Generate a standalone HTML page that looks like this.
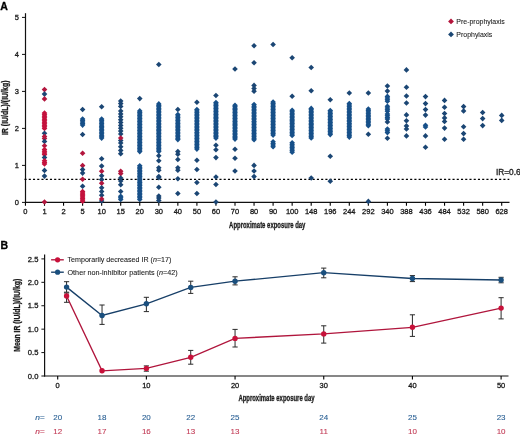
<!DOCTYPE html>
<html><head><meta charset="utf-8"><style>
html,body{margin:0;padding:0;background:#fff;}
body{width:520px;height:436px;overflow:hidden;font-family:"Liberation Sans",sans-serif;}
svg{display:block;filter:blur(0.35px);}
</style></head><body>
<svg width="520" height="436" viewBox="0 0 520 436">
<rect width="520" height="436" fill="#fff"/>
<line x1="25.5" y1="13.2" x2="25.5" y2="203.0" stroke="#111" stroke-width="1.2"/>
<line x1="24.9" y1="202.4" x2="509.5" y2="202.4" stroke="#111" stroke-width="1.2"/>
<line x1="22.0" y1="202.40" x2="25.5" y2="202.40" stroke="#111" stroke-width="1"/>
<text x="18.8" y="205.10" font-size="7.5" text-anchor="end" fill="#1a1a1a" stroke="#1a1a1a" stroke-width="0.3" font-family="Liberation Sans, sans-serif">0</text>
<line x1="22.0" y1="165.40" x2="25.5" y2="165.40" stroke="#111" stroke-width="1"/>
<text x="18.8" y="168.10" font-size="7.5" text-anchor="end" fill="#1a1a1a" stroke="#1a1a1a" stroke-width="0.3" font-family="Liberation Sans, sans-serif">1</text>
<line x1="22.0" y1="128.40" x2="25.5" y2="128.40" stroke="#111" stroke-width="1"/>
<text x="18.8" y="131.10" font-size="7.5" text-anchor="end" fill="#1a1a1a" stroke="#1a1a1a" stroke-width="0.3" font-family="Liberation Sans, sans-serif">2</text>
<line x1="22.0" y1="91.40" x2="25.5" y2="91.40" stroke="#111" stroke-width="1"/>
<text x="18.8" y="94.10" font-size="7.5" text-anchor="end" fill="#1a1a1a" stroke="#1a1a1a" stroke-width="0.3" font-family="Liberation Sans, sans-serif">3</text>
<line x1="22.0" y1="54.40" x2="25.5" y2="54.40" stroke="#111" stroke-width="1"/>
<text x="18.8" y="57.10" font-size="7.5" text-anchor="end" fill="#1a1a1a" stroke="#1a1a1a" stroke-width="0.3" font-family="Liberation Sans, sans-serif">4</text>
<line x1="22.0" y1="17.40" x2="25.5" y2="17.40" stroke="#111" stroke-width="1"/>
<text x="18.8" y="20.10" font-size="7.5" text-anchor="end" fill="#1a1a1a" stroke="#1a1a1a" stroke-width="0.3" font-family="Liberation Sans, sans-serif">5</text>
<line x1="25.45" y1="202.4" x2="25.45" y2="205.8" stroke="#000" stroke-width="1.1"/>
<text x="25.45" y="214.4" font-size="7.5" text-anchor="middle" fill="#1a1a1a" stroke="#1a1a1a" stroke-width="0.3" font-family="Liberation Sans, sans-serif">0</text>
<line x1="44.50" y1="202.4" x2="44.50" y2="205.8" stroke="#000" stroke-width="1.1"/>
<text x="44.50" y="214.4" font-size="7.5" text-anchor="middle" fill="#1a1a1a" stroke="#1a1a1a" stroke-width="0.3" font-family="Liberation Sans, sans-serif">1</text>
<line x1="63.55" y1="202.4" x2="63.55" y2="205.8" stroke="#000" stroke-width="1.1"/>
<text x="63.55" y="214.4" font-size="7.5" text-anchor="middle" fill="#1a1a1a" stroke="#1a1a1a" stroke-width="0.3" font-family="Liberation Sans, sans-serif">2</text>
<line x1="82.60" y1="202.4" x2="82.60" y2="205.8" stroke="#000" stroke-width="1.1"/>
<text x="82.60" y="214.4" font-size="7.5" text-anchor="middle" fill="#1a1a1a" stroke="#1a1a1a" stroke-width="0.3" font-family="Liberation Sans, sans-serif">5</text>
<line x1="101.65" y1="202.4" x2="101.65" y2="205.8" stroke="#000" stroke-width="1.1"/>
<text x="101.65" y="214.4" font-size="7.5" text-anchor="middle" fill="#1a1a1a" stroke="#1a1a1a" stroke-width="0.3" font-family="Liberation Sans, sans-serif">10</text>
<line x1="120.70" y1="202.4" x2="120.70" y2="205.8" stroke="#000" stroke-width="1.1"/>
<text x="120.70" y="214.4" font-size="7.5" text-anchor="middle" fill="#1a1a1a" stroke="#1a1a1a" stroke-width="0.3" font-family="Liberation Sans, sans-serif">15</text>
<line x1="139.75" y1="202.4" x2="139.75" y2="205.8" stroke="#000" stroke-width="1.1"/>
<text x="139.75" y="214.4" font-size="7.5" text-anchor="middle" fill="#1a1a1a" stroke="#1a1a1a" stroke-width="0.3" font-family="Liberation Sans, sans-serif">20</text>
<line x1="158.80" y1="202.4" x2="158.80" y2="205.8" stroke="#000" stroke-width="1.1"/>
<text x="158.80" y="214.4" font-size="7.5" text-anchor="middle" fill="#1a1a1a" stroke="#1a1a1a" stroke-width="0.3" font-family="Liberation Sans, sans-serif">30</text>
<line x1="177.85" y1="202.4" x2="177.85" y2="205.8" stroke="#000" stroke-width="1.1"/>
<text x="177.85" y="214.4" font-size="7.5" text-anchor="middle" fill="#1a1a1a" stroke="#1a1a1a" stroke-width="0.3" font-family="Liberation Sans, sans-serif">40</text>
<line x1="196.90" y1="202.4" x2="196.90" y2="205.8" stroke="#000" stroke-width="1.1"/>
<text x="196.90" y="214.4" font-size="7.5" text-anchor="middle" fill="#1a1a1a" stroke="#1a1a1a" stroke-width="0.3" font-family="Liberation Sans, sans-serif">50</text>
<line x1="215.95" y1="202.4" x2="215.95" y2="205.8" stroke="#000" stroke-width="1.1"/>
<text x="215.95" y="214.4" font-size="7.5" text-anchor="middle" fill="#1a1a1a" stroke="#1a1a1a" stroke-width="0.3" font-family="Liberation Sans, sans-serif">60</text>
<line x1="235.00" y1="202.4" x2="235.00" y2="205.8" stroke="#000" stroke-width="1.1"/>
<text x="235.00" y="214.4" font-size="7.5" text-anchor="middle" fill="#1a1a1a" stroke="#1a1a1a" stroke-width="0.3" font-family="Liberation Sans, sans-serif">70</text>
<line x1="254.05" y1="202.4" x2="254.05" y2="205.8" stroke="#000" stroke-width="1.1"/>
<text x="254.05" y="214.4" font-size="7.5" text-anchor="middle" fill="#1a1a1a" stroke="#1a1a1a" stroke-width="0.3" font-family="Liberation Sans, sans-serif">80</text>
<line x1="273.10" y1="202.4" x2="273.10" y2="205.8" stroke="#000" stroke-width="1.1"/>
<text x="273.10" y="214.4" font-size="7.5" text-anchor="middle" fill="#1a1a1a" stroke="#1a1a1a" stroke-width="0.3" font-family="Liberation Sans, sans-serif">90</text>
<line x1="292.15" y1="202.4" x2="292.15" y2="205.8" stroke="#000" stroke-width="1.1"/>
<text x="292.15" y="214.4" font-size="7.5" text-anchor="middle" fill="#1a1a1a" stroke="#1a1a1a" stroke-width="0.3" font-family="Liberation Sans, sans-serif">100</text>
<line x1="311.20" y1="202.4" x2="311.20" y2="205.8" stroke="#000" stroke-width="1.1"/>
<text x="311.20" y="214.4" font-size="7.5" text-anchor="middle" fill="#1a1a1a" stroke="#1a1a1a" stroke-width="0.3" font-family="Liberation Sans, sans-serif">148</text>
<line x1="330.25" y1="202.4" x2="330.25" y2="205.8" stroke="#000" stroke-width="1.1"/>
<text x="330.25" y="214.4" font-size="7.5" text-anchor="middle" fill="#1a1a1a" stroke="#1a1a1a" stroke-width="0.3" font-family="Liberation Sans, sans-serif">196</text>
<line x1="349.30" y1="202.4" x2="349.30" y2="205.8" stroke="#000" stroke-width="1.1"/>
<text x="349.30" y="214.4" font-size="7.5" text-anchor="middle" fill="#1a1a1a" stroke="#1a1a1a" stroke-width="0.3" font-family="Liberation Sans, sans-serif">244</text>
<line x1="368.35" y1="202.4" x2="368.35" y2="205.8" stroke="#000" stroke-width="1.1"/>
<text x="368.35" y="214.4" font-size="7.5" text-anchor="middle" fill="#1a1a1a" stroke="#1a1a1a" stroke-width="0.3" font-family="Liberation Sans, sans-serif">292</text>
<line x1="387.40" y1="202.4" x2="387.40" y2="205.8" stroke="#000" stroke-width="1.1"/>
<text x="387.40" y="214.4" font-size="7.5" text-anchor="middle" fill="#1a1a1a" stroke="#1a1a1a" stroke-width="0.3" font-family="Liberation Sans, sans-serif">340</text>
<line x1="406.45" y1="202.4" x2="406.45" y2="205.8" stroke="#000" stroke-width="1.1"/>
<text x="406.45" y="214.4" font-size="7.5" text-anchor="middle" fill="#1a1a1a" stroke="#1a1a1a" stroke-width="0.3" font-family="Liberation Sans, sans-serif">388</text>
<line x1="425.50" y1="202.4" x2="425.50" y2="205.8" stroke="#000" stroke-width="1.1"/>
<text x="425.50" y="214.4" font-size="7.5" text-anchor="middle" fill="#1a1a1a" stroke="#1a1a1a" stroke-width="0.3" font-family="Liberation Sans, sans-serif">436</text>
<line x1="444.55" y1="202.4" x2="444.55" y2="205.8" stroke="#000" stroke-width="1.1"/>
<text x="444.55" y="214.4" font-size="7.5" text-anchor="middle" fill="#1a1a1a" stroke="#1a1a1a" stroke-width="0.3" font-family="Liberation Sans, sans-serif">484</text>
<line x1="463.60" y1="202.4" x2="463.60" y2="205.8" stroke="#000" stroke-width="1.1"/>
<text x="463.60" y="214.4" font-size="7.5" text-anchor="middle" fill="#1a1a1a" stroke="#1a1a1a" stroke-width="0.3" font-family="Liberation Sans, sans-serif">532</text>
<line x1="482.65" y1="202.4" x2="482.65" y2="205.8" stroke="#000" stroke-width="1.1"/>
<text x="482.65" y="214.4" font-size="7.5" text-anchor="middle" fill="#1a1a1a" stroke="#1a1a1a" stroke-width="0.3" font-family="Liberation Sans, sans-serif">580</text>
<line x1="501.70" y1="202.4" x2="501.70" y2="205.8" stroke="#000" stroke-width="1.1"/>
<text x="501.70" y="214.4" font-size="7.5" text-anchor="middle" fill="#1a1a1a" stroke="#1a1a1a" stroke-width="0.3" font-family="Liberation Sans, sans-serif">628</text>
<line x1="24.5" y1="179.3" x2="509.3" y2="179.3" stroke="#000" stroke-width="1.3" stroke-dasharray="2.1 2.1376"/>
<text x="495.9" y="175.3" font-size="8.3" fill="#1a1a1a" stroke="#1a1a1a" stroke-width="0.3" font-family="Liberation Sans, sans-serif">IR=0.6</text>
<path d="M44.50 86.80L47.30 89.60L44.50 92.40L41.70 89.60Z" fill="#b3163e"/>
<path d="M44.50 91.30L47.30 94.10L44.50 96.90L41.70 94.10Z" fill="#1b4674"/>
<path d="M44.50 96.10L47.30 98.90L44.50 101.70L41.70 98.90Z" fill="#b3163e"/>
<path d="M44.50 110.30L47.30 113.10L44.50 115.90L41.70 113.10Z" fill="#c4123d"/>
<path d="M44.50 111.83L47.30 114.63L44.50 117.43L41.70 114.63Z" fill="#c4123d"/>
<path d="M44.50 113.36L47.30 116.16L44.50 118.96L41.70 116.16Z" fill="#c4123d"/>
<path d="M44.50 114.89L47.30 117.69L44.50 120.49L41.70 117.69Z" fill="#c4123d"/>
<path d="M44.50 116.42L47.30 119.22L44.50 122.02L41.70 119.22Z" fill="#c4123d"/>
<path d="M44.50 117.95L47.30 120.75L44.50 123.55L41.70 120.75Z" fill="#c4123d"/>
<path d="M44.50 119.48L47.30 122.28L44.50 125.08L41.70 122.28Z" fill="#c4123d"/>
<path d="M44.50 121.01L47.30 123.81L44.50 126.61L41.70 123.81Z" fill="#c4123d"/>
<path d="M44.50 122.54L47.30 125.34L44.50 128.14L41.70 125.34Z" fill="#c4123d"/>
<path d="M44.50 124.07L47.30 126.87L44.50 129.67L41.70 126.87Z" fill="#c4123d"/>
<path d="M44.50 125.60L47.30 128.40L44.50 131.20L41.70 128.40Z" fill="#c4123d"/>
<path d="M44.50 130.50L47.30 133.30L44.50 136.10L41.70 133.30Z" fill="#1b4674"/>
<path d="M44.50 133.70L47.30 136.50L44.50 139.30L41.70 136.50Z" fill="#b3163e"/>
<path d="M44.50 135.70L47.30 138.50L44.50 141.30L41.70 138.50Z" fill="#b3163e"/>
<path d="M44.50 138.60L47.30 141.40L44.50 144.20L41.70 141.40Z" fill="#1b4674"/>
<path d="M44.50 143.00L47.30 145.80L44.50 148.60L41.70 145.80Z" fill="#b3163e"/>
<path d="M44.50 146.70L47.30 149.50L44.50 152.30L41.70 149.50Z" fill="#c4123d"/>
<path d="M44.50 148.40L47.30 151.20L44.50 154.00L41.70 151.20Z" fill="#c4123d"/>
<path d="M44.50 150.10L47.30 152.90L44.50 155.70L41.70 152.90Z" fill="#c4123d"/>
<path d="M44.50 151.80L47.30 154.60L44.50 157.40L41.70 154.60Z" fill="#c4123d"/>
<path d="M44.50 154.70L47.30 157.50L44.50 160.30L41.70 157.50Z" fill="#1b4674"/>
<path d="M44.50 158.00L47.30 160.80L44.50 163.60L41.70 160.80Z" fill="#c4123d"/>
<path d="M44.50 159.60L47.30 162.40L44.50 165.20L41.70 162.40Z" fill="#c4123d"/>
<path d="M44.50 161.20L47.30 164.00L44.50 166.80L41.70 164.00Z" fill="#c4123d"/>
<path d="M44.50 167.60L47.30 170.40L44.50 173.20L41.70 170.40Z" fill="#1b4674"/>
<path d="M44.50 173.30L47.30 176.10L44.50 178.90L41.70 176.10Z" fill="#1b4674"/>
<path d="M44.50 199.20L47.30 202.00L44.50 204.80L41.70 202.00Z" fill="#b3163e"/>
<path d="M82.60 106.70L85.40 109.50L82.60 112.30L79.80 109.50Z" fill="#1b4674"/>
<path d="M82.60 116.20L85.40 119.00L82.60 121.80L79.80 119.00Z" fill="#175089"/>
<path d="M82.60 117.73L85.40 120.53L82.60 123.33L79.80 120.53Z" fill="#175089"/>
<path d="M82.60 119.25L85.40 122.05L82.60 124.85L79.80 122.05Z" fill="#175089"/>
<path d="M82.60 120.78L85.40 123.58L82.60 126.38L79.80 123.58Z" fill="#175089"/>
<path d="M82.60 122.30L85.40 125.10L82.60 127.90L79.80 125.10Z" fill="#175089"/>
<path d="M82.60 131.70L85.40 134.50L82.60 137.30L79.80 134.50Z" fill="#1b4674"/>
<path d="M82.60 150.40L85.40 153.20L82.60 156.00L79.80 153.20Z" fill="#b3163e"/>
<path d="M82.60 162.80L85.40 165.60L82.60 168.40L79.80 165.60Z" fill="#b3163e"/>
<path d="M82.60 166.80L85.40 169.60L82.60 172.40L79.80 169.60Z" fill="#1b4674"/>
<path d="M82.60 170.30L85.40 173.10L82.60 175.90L79.80 173.10Z" fill="#1b4674"/>
<path d="M82.60 176.40L85.40 179.20L82.60 182.00L79.80 179.20Z" fill="#b3163e"/>
<path d="M82.60 183.50L85.40 186.30L82.60 189.10L79.80 186.30Z" fill="#1b4674"/>
<path d="M82.60 188.70L85.40 191.50L82.60 194.30L79.80 191.50Z" fill="#c4123d"/>
<path d="M82.60 190.10L85.40 192.90L82.60 195.70L79.80 192.90Z" fill="#c4123d"/>
<path d="M82.60 191.50L85.40 194.30L82.60 197.10L79.80 194.30Z" fill="#c4123d"/>
<path d="M82.60 192.90L85.40 195.70L82.60 198.50L79.80 195.70Z" fill="#c4123d"/>
<path d="M82.60 194.30L85.40 197.10L82.60 199.90L79.80 197.10Z" fill="#c4123d"/>
<path d="M82.60 195.70L85.40 198.50L82.60 201.30L79.80 198.50Z" fill="#c4123d"/>
<path d="M82.60 197.10L85.40 199.90L82.60 202.70L79.80 199.90Z" fill="#c4123d"/>
<path d="M82.60 198.50L85.40 201.30L82.60 204.10L79.80 201.30Z" fill="#c4123d"/>
<path d="M101.65 104.00L104.45 106.80L101.65 109.60L98.85 106.80Z" fill="#1b4674"/>
<path d="M101.65 116.30L104.45 119.10L101.65 121.90L98.85 119.10Z" fill="#175089"/>
<path d="M101.65 117.76L104.45 120.56L101.65 123.36L98.85 120.56Z" fill="#175089"/>
<path d="M101.65 119.22L104.45 122.02L101.65 124.82L98.85 122.02Z" fill="#175089"/>
<path d="M101.65 120.68L104.45 123.48L101.65 126.28L98.85 123.48Z" fill="#175089"/>
<path d="M101.65 122.15L104.45 124.95L101.65 127.75L98.85 124.95Z" fill="#175089"/>
<path d="M101.65 123.61L104.45 126.41L101.65 129.21L98.85 126.41Z" fill="#175089"/>
<path d="M101.65 125.07L104.45 127.87L101.65 130.67L98.85 127.87Z" fill="#175089"/>
<path d="M101.65 126.53L104.45 129.33L101.65 132.13L98.85 129.33Z" fill="#175089"/>
<path d="M101.65 127.99L104.45 130.79L101.65 133.59L98.85 130.79Z" fill="#175089"/>
<path d="M101.65 129.45L104.45 132.25L101.65 135.05L98.85 132.25Z" fill="#175089"/>
<path d="M101.65 130.92L104.45 133.72L101.65 136.52L98.85 133.72Z" fill="#175089"/>
<path d="M101.65 132.38L104.45 135.18L101.65 137.98L98.85 135.18Z" fill="#175089"/>
<path d="M101.65 133.84L104.45 136.64L101.65 139.44L98.85 136.64Z" fill="#175089"/>
<path d="M101.65 135.30L104.45 138.10L101.65 140.90L98.85 138.10Z" fill="#175089"/>
<path d="M101.65 155.90L104.45 158.70L101.65 161.50L98.85 158.70Z" fill="#1b4674"/>
<path d="M101.65 163.30L104.45 166.10L101.65 168.90L98.85 166.10Z" fill="#1b4674"/>
<path d="M101.65 168.50L104.45 171.30L101.65 174.10L98.85 171.30Z" fill="#b3163e"/>
<path d="M101.65 173.00L104.45 175.80L101.65 178.60L98.85 175.80Z" fill="#1b4674"/>
<path d="M101.65 176.80L104.45 179.60L101.65 182.40L98.85 179.60Z" fill="#1b4674"/>
<path d="M101.65 180.50L104.45 183.30L101.65 186.10L98.85 183.30Z" fill="#b3163e"/>
<path d="M101.65 185.00L104.45 187.80L101.65 190.60L98.85 187.80Z" fill="#1b4674"/>
<path d="M101.65 188.70L104.45 191.50L101.65 194.30L98.85 191.50Z" fill="#1b4674"/>
<path d="M101.65 192.40L104.45 195.20L101.65 198.00L98.85 195.20Z" fill="#1b4674"/>
<path d="M101.65 198.20L104.45 201.00L101.65 203.80L98.85 201.00Z" fill="#1b4674"/>
<path d="M101.65 196.20L104.45 199.00L101.65 201.80L98.85 199.00Z" fill="#b3163e"/>
<path d="M120.70 98.20L123.50 101.00L120.70 103.80L117.90 101.00Z" fill="#1b4674"/>
<path d="M120.70 100.80L123.50 103.60L120.70 106.40L117.90 103.60Z" fill="#1b4674"/>
<path d="M120.70 103.70L123.50 106.50L120.70 109.30L117.90 106.50Z" fill="#1b4674"/>
<path d="M120.70 108.20L123.50 111.00L120.70 113.80L117.90 111.00Z" fill="#1b4674"/>
<path d="M120.70 111.10L123.50 113.90L120.70 116.70L117.90 113.90Z" fill="#1b4674"/>
<path d="M120.70 114.00L123.50 116.80L120.70 119.60L117.90 116.80Z" fill="#1b4674"/>
<path d="M120.70 116.90L123.50 119.70L120.70 122.50L117.90 119.70Z" fill="#1b4674"/>
<path d="M120.70 119.70L123.50 122.50L120.70 125.30L117.90 122.50Z" fill="#1b4674"/>
<path d="M120.70 122.60L123.50 125.40L120.70 128.20L117.90 125.40Z" fill="#1b4674"/>
<path d="M120.70 125.50L123.50 128.30L120.70 131.10L117.90 128.30Z" fill="#1b4674"/>
<path d="M120.70 128.30L123.50 131.10L120.70 133.90L117.90 131.10Z" fill="#1b4674"/>
<path d="M120.70 131.20L123.50 134.00L120.70 136.80L117.90 134.00Z" fill="#1b4674"/>
<path d="M120.70 137.70L123.50 140.50L120.70 143.30L117.90 140.50Z" fill="#1b4674"/>
<path d="M120.70 135.20L123.50 138.00L120.70 140.80L117.90 138.00Z" fill="#b3163e"/>
<path d="M120.70 140.20L123.50 143.00L120.70 145.80L117.90 143.00Z" fill="#1b4674"/>
<path d="M120.70 143.90L123.50 146.70L120.70 149.50L117.90 146.70Z" fill="#1b4674"/>
<path d="M120.70 147.60L123.50 150.40L120.70 153.20L117.90 150.40Z" fill="#1b4674"/>
<path d="M120.70 150.90L123.50 153.70L120.70 156.50L117.90 153.70Z" fill="#1b4674"/>
<path d="M120.70 168.50L123.50 171.30L120.70 174.10L117.90 171.30Z" fill="#b3163e"/>
<path d="M120.70 170.80L123.50 173.60L120.70 176.40L117.90 173.60Z" fill="#b3163e"/>
<path d="M120.70 175.20L123.50 178.00L120.70 180.80L117.90 178.00Z" fill="#1b4674"/>
<path d="M120.70 178.20L123.50 181.00L120.70 183.80L117.90 181.00Z" fill="#1b4674"/>
<path d="M120.70 182.00L123.50 184.80L120.70 187.60L117.90 184.80Z" fill="#1b4674"/>
<path d="M120.70 188.70L123.50 191.50L120.70 194.30L117.90 191.50Z" fill="#1b4674"/>
<path d="M120.70 193.50L123.50 196.30L120.70 199.10L117.90 196.30Z" fill="#175089"/>
<path d="M120.70 195.05L123.50 197.85L120.70 200.65L117.90 197.85Z" fill="#175089"/>
<path d="M120.70 196.60L123.50 199.40L120.70 202.20L117.90 199.40Z" fill="#175089"/>
<path d="M139.75 95.80L142.55 98.60L139.75 101.40L136.95 98.60Z" fill="#1b4674"/>
<path d="M139.75 108.10L142.55 110.90L139.75 113.70L136.95 110.90Z" fill="#175089"/>
<path d="M139.75 109.61L142.55 112.41L139.75 115.21L136.95 112.41Z" fill="#175089"/>
<path d="M139.75 111.11L142.55 113.91L139.75 116.71L136.95 113.91Z" fill="#175089"/>
<path d="M139.75 112.62L142.55 115.42L139.75 118.22L136.95 115.42Z" fill="#175089"/>
<path d="M139.75 114.13L142.55 116.93L139.75 119.73L136.95 116.93Z" fill="#175089"/>
<path d="M139.75 115.64L142.55 118.44L139.75 121.24L136.95 118.44Z" fill="#175089"/>
<path d="M139.75 117.14L142.55 119.94L139.75 122.74L136.95 119.94Z" fill="#175089"/>
<path d="M139.75 118.65L142.55 121.45L139.75 124.25L136.95 121.45Z" fill="#175089"/>
<path d="M139.75 120.16L142.55 122.96L139.75 125.76L136.95 122.96Z" fill="#175089"/>
<path d="M139.75 121.67L142.55 124.47L139.75 127.27L136.95 124.47Z" fill="#175089"/>
<path d="M139.75 123.17L142.55 125.97L139.75 128.77L136.95 125.97Z" fill="#175089"/>
<path d="M139.75 124.68L142.55 127.48L139.75 130.28L136.95 127.48Z" fill="#175089"/>
<path d="M139.75 126.19L142.55 128.99L139.75 131.79L136.95 128.99Z" fill="#175089"/>
<path d="M139.75 127.70L142.55 130.50L139.75 133.30L136.95 130.50Z" fill="#175089"/>
<path d="M139.75 129.20L142.55 132.00L139.75 134.80L136.95 132.00Z" fill="#175089"/>
<path d="M139.75 130.71L142.55 133.51L139.75 136.31L136.95 133.51Z" fill="#175089"/>
<path d="M139.75 132.22L142.55 135.02L139.75 137.82L136.95 135.02Z" fill="#175089"/>
<path d="M139.75 133.73L142.55 136.53L139.75 139.33L136.95 136.53Z" fill="#175089"/>
<path d="M139.75 135.23L142.55 138.03L139.75 140.83L136.95 138.03Z" fill="#175089"/>
<path d="M139.75 136.74L142.55 139.54L139.75 142.34L136.95 139.54Z" fill="#175089"/>
<path d="M139.75 138.25L142.55 141.05L139.75 143.85L136.95 141.05Z" fill="#175089"/>
<path d="M139.75 139.76L142.55 142.56L139.75 145.36L136.95 142.56Z" fill="#175089"/>
<path d="M139.75 141.26L142.55 144.06L139.75 146.86L136.95 144.06Z" fill="#175089"/>
<path d="M139.75 142.77L142.55 145.57L139.75 148.37L136.95 145.57Z" fill="#175089"/>
<path d="M139.75 144.28L142.55 147.08L139.75 149.88L136.95 147.08Z" fill="#175089"/>
<path d="M139.75 145.79L142.55 148.59L139.75 151.39L136.95 148.59Z" fill="#175089"/>
<path d="M139.75 147.29L142.55 150.09L139.75 152.89L136.95 150.09Z" fill="#175089"/>
<path d="M139.75 148.80L142.55 151.60L139.75 154.40L136.95 151.60Z" fill="#175089"/>
<path d="M139.75 162.90L142.55 165.70L139.75 168.50L136.95 165.70Z" fill="#175089"/>
<path d="M139.75 164.43L142.55 167.23L139.75 170.03L136.95 167.23Z" fill="#175089"/>
<path d="M139.75 165.96L142.55 168.76L139.75 171.56L136.95 168.76Z" fill="#175089"/>
<path d="M139.75 167.50L142.55 170.30L139.75 173.10L136.95 170.30Z" fill="#175089"/>
<path d="M139.75 169.03L142.55 171.83L139.75 174.63L136.95 171.83Z" fill="#175089"/>
<path d="M139.75 170.56L142.55 173.36L139.75 176.16L136.95 173.36Z" fill="#175089"/>
<path d="M139.75 172.09L142.55 174.89L139.75 177.69L136.95 174.89Z" fill="#175089"/>
<path d="M139.75 173.62L142.55 176.42L139.75 179.22L136.95 176.42Z" fill="#175089"/>
<path d="M139.75 175.15L142.55 177.95L139.75 180.75L136.95 177.95Z" fill="#175089"/>
<path d="M139.75 176.69L142.55 179.49L139.75 182.29L136.95 179.49Z" fill="#175089"/>
<path d="M139.75 178.22L142.55 181.02L139.75 183.82L136.95 181.02Z" fill="#175089"/>
<path d="M139.75 179.75L142.55 182.55L139.75 185.35L136.95 182.55Z" fill="#175089"/>
<path d="M139.75 181.28L142.55 184.08L139.75 186.88L136.95 184.08Z" fill="#175089"/>
<path d="M139.75 182.81L142.55 185.61L139.75 188.41L136.95 185.61Z" fill="#175089"/>
<path d="M139.75 184.35L142.55 187.15L139.75 189.95L136.95 187.15Z" fill="#175089"/>
<path d="M139.75 185.88L142.55 188.68L139.75 191.48L136.95 188.68Z" fill="#175089"/>
<path d="M139.75 187.41L142.55 190.21L139.75 193.01L136.95 190.21Z" fill="#175089"/>
<path d="M139.75 188.94L142.55 191.74L139.75 194.54L136.95 191.74Z" fill="#175089"/>
<path d="M139.75 190.47L142.55 193.27L139.75 196.07L136.95 193.27Z" fill="#175089"/>
<path d="M139.75 192.00L142.55 194.80L139.75 197.60L136.95 194.80Z" fill="#175089"/>
<path d="M139.75 193.54L142.55 196.34L139.75 199.14L136.95 196.34Z" fill="#175089"/>
<path d="M139.75 195.07L142.55 197.87L139.75 200.67L136.95 197.87Z" fill="#175089"/>
<path d="M139.75 196.60L142.55 199.40L139.75 202.20L136.95 199.40Z" fill="#175089"/>
<path d="M158.80 61.70L161.60 64.50L158.80 67.30L156.00 64.50Z" fill="#1b4674"/>
<path d="M158.80 101.10L161.60 103.90L158.80 106.70L156.00 103.90Z" fill="#175089"/>
<path d="M158.80 102.58L161.60 105.38L158.80 108.18L156.00 105.38Z" fill="#175089"/>
<path d="M158.80 104.07L161.60 106.87L158.80 109.67L156.00 106.87Z" fill="#175089"/>
<path d="M158.80 105.55L161.60 108.35L158.80 111.15L156.00 108.35Z" fill="#175089"/>
<path d="M158.80 107.04L161.60 109.84L158.80 112.64L156.00 109.84Z" fill="#175089"/>
<path d="M158.80 108.52L161.60 111.32L158.80 114.12L156.00 111.32Z" fill="#175089"/>
<path d="M158.80 110.01L161.60 112.81L158.80 115.61L156.00 112.81Z" fill="#175089"/>
<path d="M158.80 111.49L161.60 114.29L158.80 117.09L156.00 114.29Z" fill="#175089"/>
<path d="M158.80 112.97L161.60 115.77L158.80 118.57L156.00 115.77Z" fill="#175089"/>
<path d="M158.80 114.46L161.60 117.26L158.80 120.06L156.00 117.26Z" fill="#175089"/>
<path d="M158.80 115.94L161.60 118.74L158.80 121.54L156.00 118.74Z" fill="#175089"/>
<path d="M158.80 117.43L161.60 120.23L158.80 123.03L156.00 120.23Z" fill="#175089"/>
<path d="M158.80 118.91L161.60 121.71L158.80 124.51L156.00 121.71Z" fill="#175089"/>
<path d="M158.80 120.40L161.60 123.20L158.80 126.00L156.00 123.20Z" fill="#175089"/>
<path d="M158.80 121.88L161.60 124.68L158.80 127.48L156.00 124.68Z" fill="#175089"/>
<path d="M158.80 123.37L161.60 126.17L158.80 128.97L156.00 126.17Z" fill="#175089"/>
<path d="M158.80 124.85L161.60 127.65L158.80 130.45L156.00 127.65Z" fill="#175089"/>
<path d="M158.80 126.33L161.60 129.13L158.80 131.93L156.00 129.13Z" fill="#175089"/>
<path d="M158.80 127.82L161.60 130.62L158.80 133.42L156.00 130.62Z" fill="#175089"/>
<path d="M158.80 129.30L161.60 132.10L158.80 134.90L156.00 132.10Z" fill="#175089"/>
<path d="M158.80 130.79L161.60 133.59L158.80 136.39L156.00 133.59Z" fill="#175089"/>
<path d="M158.80 132.27L161.60 135.07L158.80 137.87L156.00 135.07Z" fill="#175089"/>
<path d="M158.80 133.76L161.60 136.56L158.80 139.36L156.00 136.56Z" fill="#175089"/>
<path d="M158.80 135.24L161.60 138.04L158.80 140.84L156.00 138.04Z" fill="#175089"/>
<path d="M158.80 136.72L161.60 139.53L158.80 142.33L156.00 139.53Z" fill="#175089"/>
<path d="M158.80 138.21L161.60 141.01L158.80 143.81L156.00 141.01Z" fill="#175089"/>
<path d="M158.80 139.69L161.60 142.49L158.80 145.29L156.00 142.49Z" fill="#175089"/>
<path d="M158.80 141.18L161.60 143.98L158.80 146.78L156.00 143.98Z" fill="#175089"/>
<path d="M158.80 142.66L161.60 145.46L158.80 148.26L156.00 145.46Z" fill="#175089"/>
<path d="M158.80 144.15L161.60 146.95L158.80 149.75L156.00 146.95Z" fill="#175089"/>
<path d="M158.80 145.63L161.60 148.43L158.80 151.23L156.00 148.43Z" fill="#175089"/>
<path d="M158.80 147.12L161.60 149.92L158.80 152.72L156.00 149.92Z" fill="#175089"/>
<path d="M158.80 148.60L161.60 151.40L158.80 154.20L156.00 151.40Z" fill="#175089"/>
<path d="M158.80 152.90L161.60 155.70L158.80 158.50L156.00 155.70Z" fill="#1b4674"/>
<path d="M158.80 157.90L161.60 160.70L158.80 163.50L156.00 160.70Z" fill="#1b4674"/>
<path d="M158.80 164.90L161.60 167.70L158.80 170.50L156.00 167.70Z" fill="#1b4674"/>
<path d="M158.80 167.40L161.60 170.20L158.80 173.00L156.00 170.20Z" fill="#1b4674"/>
<path d="M158.80 173.70L161.60 176.50L158.80 179.30L156.00 176.50Z" fill="#1b4674"/>
<path d="M158.80 174.90L161.60 177.70L158.80 180.50L156.00 177.70Z" fill="#1b4674"/>
<path d="M158.80 184.40L161.60 187.20L158.80 190.00L156.00 187.20Z" fill="#1b4674"/>
<path d="M158.80 193.20L161.60 196.00L158.80 198.80L156.00 196.00Z" fill="#1b4674"/>
<path d="M158.80 195.10L161.60 197.90L158.80 200.70L156.00 197.90Z" fill="#1b4674"/>
<path d="M158.80 197.60L161.60 200.40L158.80 203.20L156.00 200.40Z" fill="#1b4674"/>
<path d="M177.85 106.70L180.65 109.50L177.85 112.30L175.05 109.50Z" fill="#1b4674"/>
<path d="M177.85 111.80L180.65 114.60L177.85 117.40L175.05 114.60Z" fill="#175089"/>
<path d="M177.85 113.27L180.65 116.07L177.85 118.87L175.05 116.07Z" fill="#175089"/>
<path d="M177.85 114.74L180.65 117.54L177.85 120.34L175.05 117.54Z" fill="#175089"/>
<path d="M177.85 116.21L180.65 119.01L177.85 121.81L175.05 119.01Z" fill="#175089"/>
<path d="M177.85 117.68L180.65 120.48L177.85 123.28L175.05 120.48Z" fill="#175089"/>
<path d="M177.85 119.15L180.65 121.95L177.85 124.75L175.05 121.95Z" fill="#175089"/>
<path d="M177.85 120.62L180.65 123.42L177.85 126.22L175.05 123.42Z" fill="#175089"/>
<path d="M177.85 122.09L180.65 124.89L177.85 127.69L175.05 124.89Z" fill="#175089"/>
<path d="M177.85 123.56L180.65 126.36L177.85 129.16L175.05 126.36Z" fill="#175089"/>
<path d="M177.85 125.04L180.65 127.84L177.85 130.64L175.05 127.84Z" fill="#175089"/>
<path d="M177.85 126.51L180.65 129.31L177.85 132.11L175.05 129.31Z" fill="#175089"/>
<path d="M177.85 127.98L180.65 130.78L177.85 133.58L175.05 130.78Z" fill="#175089"/>
<path d="M177.85 129.45L180.65 132.25L177.85 135.05L175.05 132.25Z" fill="#175089"/>
<path d="M177.85 130.92L180.65 133.72L177.85 136.52L175.05 133.72Z" fill="#175089"/>
<path d="M177.85 132.39L180.65 135.19L177.85 137.99L175.05 135.19Z" fill="#175089"/>
<path d="M177.85 133.86L180.65 136.66L177.85 139.46L175.05 136.66Z" fill="#175089"/>
<path d="M177.85 135.33L180.65 138.13L177.85 140.93L175.05 138.13Z" fill="#175089"/>
<path d="M177.85 136.80L180.65 139.60L177.85 142.40L175.05 139.60Z" fill="#175089"/>
<path d="M177.85 148.80L180.65 151.60L177.85 154.40L175.05 151.60Z" fill="#1b4674"/>
<path d="M177.85 151.40L180.65 154.20L177.85 157.00L175.05 154.20Z" fill="#1b4674"/>
<path d="M177.85 156.70L180.65 159.50L177.85 162.30L175.05 159.50Z" fill="#1b4674"/>
<path d="M177.85 164.90L180.65 167.70L177.85 170.50L175.05 167.70Z" fill="#1b4674"/>
<path d="M177.85 167.40L180.65 170.20L177.85 173.00L175.05 170.20Z" fill="#1b4674"/>
<path d="M177.85 176.00L180.65 178.80L177.85 181.60L175.05 178.80Z" fill="#1b4674"/>
<path d="M177.85 190.70L180.65 193.50L177.85 196.30L175.05 193.50Z" fill="#1b4674"/>
<path d="M196.90 99.50L199.70 102.30L196.90 105.10L194.10 102.30Z" fill="#1b4674"/>
<path d="M196.90 106.80L199.70 109.60L196.90 112.40L194.10 109.60Z" fill="#175089"/>
<path d="M196.90 108.32L199.70 111.12L196.90 113.92L194.10 111.12Z" fill="#175089"/>
<path d="M196.90 109.84L199.70 112.64L196.90 115.44L194.10 112.64Z" fill="#175089"/>
<path d="M196.90 111.36L199.70 114.16L196.90 116.96L194.10 114.16Z" fill="#175089"/>
<path d="M196.90 112.88L199.70 115.68L196.90 118.48L194.10 115.68Z" fill="#175089"/>
<path d="M196.90 114.40L199.70 117.20L196.90 120.00L194.10 117.20Z" fill="#175089"/>
<path d="M196.90 115.92L199.70 118.72L196.90 121.52L194.10 118.72Z" fill="#175089"/>
<path d="M196.90 117.43L199.70 120.23L196.90 123.03L194.10 120.23Z" fill="#175089"/>
<path d="M196.90 118.95L199.70 121.75L196.90 124.55L194.10 121.75Z" fill="#175089"/>
<path d="M196.90 120.47L199.70 123.27L196.90 126.07L194.10 123.27Z" fill="#175089"/>
<path d="M196.90 121.99L199.70 124.79L196.90 127.59L194.10 124.79Z" fill="#175089"/>
<path d="M196.90 123.51L199.70 126.31L196.90 129.11L194.10 126.31Z" fill="#175089"/>
<path d="M196.90 125.03L199.70 127.83L196.90 130.63L194.10 127.83Z" fill="#175089"/>
<path d="M196.90 126.55L199.70 129.35L196.90 132.15L194.10 129.35Z" fill="#175089"/>
<path d="M196.90 128.07L199.70 130.87L196.90 133.67L194.10 130.87Z" fill="#175089"/>
<path d="M196.90 129.59L199.70 132.39L196.90 135.19L194.10 132.39Z" fill="#175089"/>
<path d="M196.90 131.11L199.70 133.91L196.90 136.71L194.10 133.91Z" fill="#175089"/>
<path d="M196.90 132.63L199.70 135.43L196.90 138.23L194.10 135.43Z" fill="#175089"/>
<path d="M196.90 134.15L199.70 136.95L196.90 139.75L194.10 136.95Z" fill="#175089"/>
<path d="M196.90 135.67L199.70 138.47L196.90 141.27L194.10 138.47Z" fill="#175089"/>
<path d="M196.90 137.18L199.70 139.98L196.90 142.78L194.10 139.98Z" fill="#175089"/>
<path d="M196.90 138.70L199.70 141.50L196.90 144.30L194.10 141.50Z" fill="#175089"/>
<path d="M196.90 140.22L199.70 143.02L196.90 145.82L194.10 143.02Z" fill="#175089"/>
<path d="M196.90 141.74L199.70 144.54L196.90 147.34L194.10 144.54Z" fill="#175089"/>
<path d="M196.90 143.26L199.70 146.06L196.90 148.86L194.10 146.06Z" fill="#175089"/>
<path d="M196.90 144.78L199.70 147.58L196.90 150.38L194.10 147.58Z" fill="#175089"/>
<path d="M196.90 146.30L199.70 149.10L196.90 151.90L194.10 149.10Z" fill="#175089"/>
<path d="M196.90 157.50L199.70 160.30L196.90 163.10L194.10 160.30Z" fill="#1b4674"/>
<path d="M196.90 166.70L199.70 169.50L196.90 172.30L194.10 169.50Z" fill="#1b4674"/>
<path d="M196.90 179.70L199.70 182.50L196.90 185.30L194.10 182.50Z" fill="#1b4674"/>
<path d="M196.90 190.70L199.70 193.50L196.90 196.30L194.10 193.50Z" fill="#1b4674"/>
<path d="M215.95 92.70L218.75 95.50L215.95 98.30L213.15 95.50Z" fill="#1b4674"/>
<path d="M215.95 99.80L218.75 102.60L215.95 105.40L213.15 102.60Z" fill="#175089"/>
<path d="M215.95 101.28L218.75 104.08L215.95 106.88L213.15 104.08Z" fill="#175089"/>
<path d="M215.95 102.76L218.75 105.56L215.95 108.36L213.15 105.56Z" fill="#175089"/>
<path d="M215.95 104.24L218.75 107.04L215.95 109.84L213.15 107.04Z" fill="#175089"/>
<path d="M215.95 105.72L218.75 108.52L215.95 111.32L213.15 108.52Z" fill="#175089"/>
<path d="M215.95 107.20L218.75 110.00L215.95 112.80L213.15 110.00Z" fill="#175089"/>
<path d="M215.95 108.67L218.75 111.47L215.95 114.27L213.15 111.47Z" fill="#175089"/>
<path d="M215.95 110.15L218.75 112.95L215.95 115.75L213.15 112.95Z" fill="#175089"/>
<path d="M215.95 111.63L218.75 114.43L215.95 117.23L213.15 114.43Z" fill="#175089"/>
<path d="M215.95 113.11L218.75 115.91L215.95 118.71L213.15 115.91Z" fill="#175089"/>
<path d="M215.95 114.59L218.75 117.39L215.95 120.19L213.15 117.39Z" fill="#175089"/>
<path d="M215.95 116.07L218.75 118.87L215.95 121.67L213.15 118.87Z" fill="#175089"/>
<path d="M215.95 117.55L218.75 120.35L215.95 123.15L213.15 120.35Z" fill="#175089"/>
<path d="M215.95 119.03L218.75 121.83L215.95 124.63L213.15 121.83Z" fill="#175089"/>
<path d="M215.95 120.51L218.75 123.31L215.95 126.11L213.15 123.31Z" fill="#175089"/>
<path d="M215.95 121.99L218.75 124.79L215.95 127.59L213.15 124.79Z" fill="#175089"/>
<path d="M215.95 123.47L218.75 126.27L215.95 129.07L213.15 126.27Z" fill="#175089"/>
<path d="M215.95 124.95L218.75 127.75L215.95 130.55L213.15 127.75Z" fill="#175089"/>
<path d="M215.95 126.42L218.75 129.22L215.95 132.03L213.15 129.22Z" fill="#175089"/>
<path d="M215.95 127.90L218.75 130.70L215.95 133.50L213.15 130.70Z" fill="#175089"/>
<path d="M215.95 129.38L218.75 132.18L215.95 134.98L213.15 132.18Z" fill="#175089"/>
<path d="M215.95 130.86L218.75 133.66L215.95 136.46L213.15 133.66Z" fill="#175089"/>
<path d="M215.95 132.34L218.75 135.14L215.95 137.94L213.15 135.14Z" fill="#175089"/>
<path d="M215.95 133.82L218.75 136.62L215.95 139.42L213.15 136.62Z" fill="#175089"/>
<path d="M215.95 135.30L218.75 138.10L215.95 140.90L213.15 138.10Z" fill="#175089"/>
<path d="M215.95 142.40L218.75 145.20L215.95 148.00L213.15 145.20Z" fill="#1b4674"/>
<path d="M215.95 146.90L218.75 149.70L215.95 152.50L213.15 149.70Z" fill="#1b4674"/>
<path d="M215.95 154.80L218.75 157.60L215.95 160.40L213.15 157.60Z" fill="#1b4674"/>
<path d="M215.95 174.20L218.75 177.00L215.95 179.80L213.15 177.00Z" fill="#1b4674"/>
<path d="M215.95 181.70L218.75 184.50L215.95 187.30L213.15 184.50Z" fill="#1b4674"/>
<path d="M215.95 199.20L218.75 202.00L215.95 204.80L213.15 202.00Z" fill="#1b4674"/>
<path d="M235.00 66.20L237.80 69.00L235.00 71.80L232.20 69.00Z" fill="#1b4674"/>
<path d="M235.00 102.40L237.80 105.20L235.00 108.00L232.20 105.20Z" fill="#175089"/>
<path d="M235.00 103.87L237.80 106.67L235.00 109.47L232.20 106.67Z" fill="#175089"/>
<path d="M235.00 105.35L237.80 108.15L235.00 110.95L232.20 108.15Z" fill="#175089"/>
<path d="M235.00 106.82L237.80 109.62L235.00 112.42L232.20 109.62Z" fill="#175089"/>
<path d="M235.00 108.30L237.80 111.10L235.00 113.90L232.20 111.10Z" fill="#175089"/>
<path d="M235.00 109.77L237.80 112.57L235.00 115.37L232.20 112.57Z" fill="#175089"/>
<path d="M235.00 111.24L237.80 114.04L235.00 116.84L232.20 114.04Z" fill="#175089"/>
<path d="M235.00 112.72L237.80 115.52L235.00 118.32L232.20 115.52Z" fill="#175089"/>
<path d="M235.00 114.19L237.80 116.99L235.00 119.79L232.20 116.99Z" fill="#175089"/>
<path d="M235.00 115.67L237.80 118.47L235.00 121.27L232.20 118.47Z" fill="#175089"/>
<path d="M235.00 117.14L237.80 119.94L235.00 122.74L232.20 119.94Z" fill="#175089"/>
<path d="M235.00 118.61L237.80 121.41L235.00 124.21L232.20 121.41Z" fill="#175089"/>
<path d="M235.00 120.09L237.80 122.89L235.00 125.69L232.20 122.89Z" fill="#175089"/>
<path d="M235.00 121.56L237.80 124.36L235.00 127.16L232.20 124.36Z" fill="#175089"/>
<path d="M235.00 123.03L237.80 125.83L235.00 128.63L232.20 125.83Z" fill="#175089"/>
<path d="M235.00 124.51L237.80 127.31L235.00 130.11L232.20 127.31Z" fill="#175089"/>
<path d="M235.00 125.98L237.80 128.78L235.00 131.58L232.20 128.78Z" fill="#175089"/>
<path d="M235.00 127.46L237.80 130.26L235.00 133.06L232.20 130.26Z" fill="#175089"/>
<path d="M235.00 128.93L237.80 131.73L235.00 134.53L232.20 131.73Z" fill="#175089"/>
<path d="M235.00 130.40L237.80 133.20L235.00 136.00L232.20 133.20Z" fill="#175089"/>
<path d="M235.00 131.88L237.80 134.68L235.00 137.48L232.20 134.68Z" fill="#175089"/>
<path d="M235.00 133.35L237.80 136.15L235.00 138.95L232.20 136.15Z" fill="#175089"/>
<path d="M235.00 134.83L237.80 137.63L235.00 140.43L232.20 137.63Z" fill="#175089"/>
<path d="M235.00 136.30L237.80 139.10L235.00 141.90L232.20 139.10Z" fill="#175089"/>
<path d="M235.00 146.50L237.80 149.30L235.00 152.10L232.20 149.30Z" fill="#1b4674"/>
<path d="M235.00 155.40L237.80 158.20L235.00 161.00L232.20 158.20Z" fill="#1b4674"/>
<path d="M235.00 168.20L237.80 171.00L235.00 173.80L232.20 171.00Z" fill="#1b4674"/>
<path d="M254.05 42.90L256.85 45.70L254.05 48.50L251.25 45.70Z" fill="#1b4674"/>
<path d="M254.05 59.90L256.85 62.70L254.05 65.50L251.25 62.70Z" fill="#1b4674"/>
<path d="M254.05 82.60L256.85 85.40L254.05 88.20L251.25 85.40Z" fill="#1b4674"/>
<path d="M254.05 85.70L256.85 88.50L254.05 91.30L251.25 88.50Z" fill="#1b4674"/>
<path d="M254.05 88.50L256.85 91.30L254.05 94.10L251.25 91.30Z" fill="#1b4674"/>
<path d="M254.05 101.80L256.85 104.60L254.05 107.40L251.25 104.60Z" fill="#175089"/>
<path d="M254.05 103.33L256.85 106.13L254.05 108.93L251.25 106.13Z" fill="#175089"/>
<path d="M254.05 104.85L256.85 107.65L254.05 110.45L251.25 107.65Z" fill="#175089"/>
<path d="M254.05 106.38L256.85 109.18L254.05 111.98L251.25 109.18Z" fill="#175089"/>
<path d="M254.05 107.90L256.85 110.70L254.05 113.50L251.25 110.70Z" fill="#175089"/>
<path d="M254.05 109.43L256.85 112.23L254.05 115.03L251.25 112.23Z" fill="#175089"/>
<path d="M254.05 110.96L256.85 113.76L254.05 116.56L251.25 113.76Z" fill="#175089"/>
<path d="M254.05 112.48L256.85 115.28L254.05 118.08L251.25 115.28Z" fill="#175089"/>
<path d="M254.05 114.01L256.85 116.81L254.05 119.61L251.25 116.81Z" fill="#175089"/>
<path d="M254.05 115.53L256.85 118.33L254.05 121.13L251.25 118.33Z" fill="#175089"/>
<path d="M254.05 117.06L256.85 119.86L254.05 122.66L251.25 119.86Z" fill="#175089"/>
<path d="M254.05 118.59L256.85 121.39L254.05 124.19L251.25 121.39Z" fill="#175089"/>
<path d="M254.05 120.11L256.85 122.91L254.05 125.71L251.25 122.91Z" fill="#175089"/>
<path d="M254.05 121.64L256.85 124.44L254.05 127.24L251.25 124.44Z" fill="#175089"/>
<path d="M254.05 123.17L256.85 125.97L254.05 128.77L251.25 125.97Z" fill="#175089"/>
<path d="M254.05 124.69L256.85 127.49L254.05 130.29L251.25 127.49Z" fill="#175089"/>
<path d="M254.05 126.22L256.85 129.02L254.05 131.82L251.25 129.02Z" fill="#175089"/>
<path d="M254.05 127.74L256.85 130.54L254.05 133.34L251.25 130.54Z" fill="#175089"/>
<path d="M254.05 129.27L256.85 132.07L254.05 134.87L251.25 132.07Z" fill="#175089"/>
<path d="M254.05 130.80L256.85 133.60L254.05 136.40L251.25 133.60Z" fill="#175089"/>
<path d="M254.05 132.32L256.85 135.12L254.05 137.92L251.25 135.12Z" fill="#175089"/>
<path d="M254.05 133.85L256.85 136.65L254.05 139.45L251.25 136.65Z" fill="#175089"/>
<path d="M254.05 135.37L256.85 138.17L254.05 140.97L251.25 138.17Z" fill="#175089"/>
<path d="M254.05 136.90L256.85 139.70L254.05 142.50L251.25 139.70Z" fill="#175089"/>
<path d="M254.05 162.60L256.85 165.40L254.05 168.20L251.25 165.40Z" fill="#1b4674"/>
<path d="M254.05 168.20L256.85 171.00L254.05 173.80L251.25 171.00Z" fill="#1b4674"/>
<path d="M254.05 173.80L256.85 176.60L254.05 179.40L251.25 176.60Z" fill="#1b4674"/>
<path d="M273.10 41.70L275.90 44.50L273.10 47.30L270.30 44.50Z" fill="#1b4674"/>
<path d="M273.10 99.30L275.90 102.10L273.10 104.90L270.30 102.10Z" fill="#175089"/>
<path d="M273.10 100.80L275.90 103.60L273.10 106.40L270.30 103.60Z" fill="#175089"/>
<path d="M273.10 102.30L275.90 105.10L273.10 107.90L270.30 105.10Z" fill="#175089"/>
<path d="M273.10 103.80L275.90 106.60L273.10 109.40L270.30 106.60Z" fill="#175089"/>
<path d="M273.10 105.30L275.90 108.10L273.10 110.90L270.30 108.10Z" fill="#175089"/>
<path d="M273.10 106.80L275.90 109.60L273.10 112.40L270.30 109.60Z" fill="#175089"/>
<path d="M273.10 108.30L275.90 111.10L273.10 113.90L270.30 111.10Z" fill="#175089"/>
<path d="M273.10 109.80L275.90 112.60L273.10 115.40L270.30 112.60Z" fill="#175089"/>
<path d="M273.10 111.30L275.90 114.10L273.10 116.90L270.30 114.10Z" fill="#175089"/>
<path d="M273.10 112.80L275.90 115.60L273.10 118.40L270.30 115.60Z" fill="#175089"/>
<path d="M273.10 114.30L275.90 117.10L273.10 119.90L270.30 117.10Z" fill="#175089"/>
<path d="M273.10 115.80L275.90 118.60L273.10 121.40L270.30 118.60Z" fill="#175089"/>
<path d="M273.10 117.30L275.90 120.10L273.10 122.90L270.30 120.10Z" fill="#175089"/>
<path d="M273.10 118.80L275.90 121.60L273.10 124.40L270.30 121.60Z" fill="#175089"/>
<path d="M273.10 120.30L275.90 123.10L273.10 125.90L270.30 123.10Z" fill="#175089"/>
<path d="M273.10 121.80L275.90 124.60L273.10 127.40L270.30 124.60Z" fill="#175089"/>
<path d="M273.10 123.30L275.90 126.10L273.10 128.90L270.30 126.10Z" fill="#175089"/>
<path d="M273.10 124.80L275.90 127.60L273.10 130.40L270.30 127.60Z" fill="#175089"/>
<path d="M273.10 126.30L275.90 129.10L273.10 131.90L270.30 129.10Z" fill="#175089"/>
<path d="M273.10 127.80L275.90 130.60L273.10 133.40L270.30 130.60Z" fill="#175089"/>
<path d="M273.10 129.30L275.90 132.10L273.10 134.90L270.30 132.10Z" fill="#175089"/>
<path d="M273.10 130.80L275.90 133.60L273.10 136.40L270.30 133.60Z" fill="#175089"/>
<path d="M273.10 132.30L275.90 135.10L273.10 137.90L270.30 135.10Z" fill="#175089"/>
<path d="M273.10 139.00L275.90 141.80L273.10 144.60L270.30 141.80Z" fill="#175089"/>
<path d="M273.10 140.63L275.90 143.43L273.10 146.23L270.30 143.43Z" fill="#175089"/>
<path d="M273.10 142.27L275.90 145.07L273.10 147.87L270.30 145.07Z" fill="#175089"/>
<path d="M273.10 143.90L275.90 146.70L273.10 149.50L270.30 146.70Z" fill="#175089"/>
<path d="M292.15 54.90L294.95 57.70L292.15 60.50L289.35 57.70Z" fill="#1b4674"/>
<path d="M292.15 93.50L294.95 96.30L292.15 99.10L289.35 96.30Z" fill="#1b4674"/>
<path d="M292.15 107.50L294.95 110.30L292.15 113.10L289.35 110.30Z" fill="#175089"/>
<path d="M292.15 108.98L294.95 111.78L292.15 114.58L289.35 111.78Z" fill="#175089"/>
<path d="M292.15 110.45L294.95 113.25L292.15 116.05L289.35 113.25Z" fill="#175089"/>
<path d="M292.15 111.93L294.95 114.73L292.15 117.53L289.35 114.73Z" fill="#175089"/>
<path d="M292.15 113.41L294.95 116.21L292.15 119.01L289.35 116.21Z" fill="#175089"/>
<path d="M292.15 114.88L294.95 117.68L292.15 120.48L289.35 117.68Z" fill="#175089"/>
<path d="M292.15 116.36L294.95 119.16L292.15 121.96L289.35 119.16Z" fill="#175089"/>
<path d="M292.15 117.84L294.95 120.64L292.15 123.44L289.35 120.64Z" fill="#175089"/>
<path d="M292.15 119.31L294.95 122.11L292.15 124.91L289.35 122.11Z" fill="#175089"/>
<path d="M292.15 120.79L294.95 123.59L292.15 126.39L289.35 123.59Z" fill="#175089"/>
<path d="M292.15 122.26L294.95 125.06L292.15 127.86L289.35 125.06Z" fill="#175089"/>
<path d="M292.15 123.74L294.95 126.54L292.15 129.34L289.35 126.54Z" fill="#175089"/>
<path d="M292.15 125.22L294.95 128.02L292.15 130.82L289.35 128.02Z" fill="#175089"/>
<path d="M292.15 126.69L294.95 129.49L292.15 132.29L289.35 129.49Z" fill="#175089"/>
<path d="M292.15 128.17L294.95 130.97L292.15 133.77L289.35 130.97Z" fill="#175089"/>
<path d="M292.15 129.65L294.95 132.45L292.15 135.25L289.35 132.45Z" fill="#175089"/>
<path d="M292.15 131.12L294.95 133.92L292.15 136.72L289.35 133.92Z" fill="#175089"/>
<path d="M292.15 132.60L294.95 135.40L292.15 138.20L289.35 135.40Z" fill="#175089"/>
<path d="M292.15 140.00L294.95 142.80L292.15 145.60L289.35 142.80Z" fill="#175089"/>
<path d="M292.15 141.57L294.95 144.37L292.15 147.17L289.35 144.37Z" fill="#175089"/>
<path d="M292.15 143.13L294.95 145.93L292.15 148.73L289.35 145.93Z" fill="#175089"/>
<path d="M292.15 144.70L294.95 147.50L292.15 150.30L289.35 147.50Z" fill="#175089"/>
<path d="M292.15 146.27L294.95 149.07L292.15 151.87L289.35 149.07Z" fill="#175089"/>
<path d="M292.15 147.83L294.95 150.63L292.15 153.43L289.35 150.63Z" fill="#175089"/>
<path d="M292.15 149.40L294.95 152.20L292.15 155.00L289.35 152.20Z" fill="#175089"/>
<path d="M311.20 64.70L314.00 67.50L311.20 70.30L308.40 67.50Z" fill="#1b4674"/>
<path d="M311.20 88.00L314.00 90.80L311.20 93.60L308.40 90.80Z" fill="#1b4674"/>
<path d="M311.20 105.60L314.00 108.40L311.20 111.20L308.40 108.40Z" fill="#175089"/>
<path d="M311.20 107.07L314.00 109.87L311.20 112.67L308.40 109.87Z" fill="#175089"/>
<path d="M311.20 108.55L314.00 111.35L311.20 114.15L308.40 111.35Z" fill="#175089"/>
<path d="M311.20 110.02L314.00 112.82L311.20 115.62L308.40 112.82Z" fill="#175089"/>
<path d="M311.20 111.50L314.00 114.30L311.20 117.10L308.40 114.30Z" fill="#175089"/>
<path d="M311.20 112.97L314.00 115.77L311.20 118.57L308.40 115.77Z" fill="#175089"/>
<path d="M311.20 114.45L314.00 117.25L311.20 120.05L308.40 117.25Z" fill="#175089"/>
<path d="M311.20 115.92L314.00 118.72L311.20 121.52L308.40 118.72Z" fill="#175089"/>
<path d="M311.20 117.40L314.00 120.20L311.20 123.00L308.40 120.20Z" fill="#175089"/>
<path d="M311.20 118.88L314.00 121.67L311.20 124.47L308.40 121.67Z" fill="#175089"/>
<path d="M311.20 120.35L314.00 123.15L311.20 125.95L308.40 123.15Z" fill="#175089"/>
<path d="M311.20 121.83L314.00 124.62L311.20 127.42L308.40 124.62Z" fill="#175089"/>
<path d="M311.20 123.30L314.00 126.10L311.20 128.90L308.40 126.10Z" fill="#175089"/>
<path d="M311.20 124.78L314.00 127.58L311.20 130.38L308.40 127.58Z" fill="#175089"/>
<path d="M311.20 126.25L314.00 129.05L311.20 131.85L308.40 129.05Z" fill="#175089"/>
<path d="M311.20 127.73L314.00 130.53L311.20 133.33L308.40 130.53Z" fill="#175089"/>
<path d="M311.20 129.20L314.00 132.00L311.20 134.80L308.40 132.00Z" fill="#175089"/>
<path d="M311.20 130.67L314.00 133.47L311.20 136.28L308.40 133.47Z" fill="#175089"/>
<path d="M311.20 132.15L314.00 134.95L311.20 137.75L308.40 134.95Z" fill="#175089"/>
<path d="M311.20 133.62L314.00 136.43L311.20 139.23L308.40 136.43Z" fill="#175089"/>
<path d="M311.20 135.10L314.00 137.90L311.20 140.70L308.40 137.90Z" fill="#175089"/>
<path d="M311.20 175.20L314.00 178.00L311.20 180.80L308.40 178.00Z" fill="#1b4674"/>
<path d="M330.25 96.90L333.05 99.70L330.25 102.50L327.45 99.70Z" fill="#1b4674"/>
<path d="M330.25 107.70L333.05 110.50L330.25 113.30L327.45 110.50Z" fill="#175089"/>
<path d="M330.25 109.21L333.05 112.01L330.25 114.81L327.45 112.01Z" fill="#175089"/>
<path d="M330.25 110.71L333.05 113.51L330.25 116.31L327.45 113.51Z" fill="#175089"/>
<path d="M330.25 112.22L333.05 115.02L330.25 117.82L327.45 115.02Z" fill="#175089"/>
<path d="M330.25 113.73L333.05 116.53L330.25 119.33L327.45 116.53Z" fill="#175089"/>
<path d="M330.25 115.23L333.05 118.03L330.25 120.83L327.45 118.03Z" fill="#175089"/>
<path d="M330.25 116.74L333.05 119.54L330.25 122.34L327.45 119.54Z" fill="#175089"/>
<path d="M330.25 118.24L333.05 121.04L330.25 123.84L327.45 121.04Z" fill="#175089"/>
<path d="M330.25 119.75L333.05 122.55L330.25 125.35L327.45 122.55Z" fill="#175089"/>
<path d="M330.25 121.26L333.05 124.06L330.25 126.86L327.45 124.06Z" fill="#175089"/>
<path d="M330.25 122.76L333.05 125.56L330.25 128.36L327.45 125.56Z" fill="#175089"/>
<path d="M330.25 124.27L333.05 127.07L330.25 129.87L327.45 127.07Z" fill="#175089"/>
<path d="M330.25 125.77L333.05 128.57L330.25 131.38L327.45 128.57Z" fill="#175089"/>
<path d="M330.25 127.28L333.05 130.08L330.25 132.88L327.45 130.08Z" fill="#175089"/>
<path d="M330.25 128.79L333.05 131.59L330.25 134.39L327.45 131.59Z" fill="#175089"/>
<path d="M330.25 130.29L333.05 133.09L330.25 135.89L327.45 133.09Z" fill="#175089"/>
<path d="M330.25 131.80L333.05 134.60L330.25 137.40L327.45 134.60Z" fill="#175089"/>
<path d="M330.25 153.40L333.05 156.20L330.25 159.00L327.45 156.20Z" fill="#1b4674"/>
<path d="M330.25 178.50L333.05 181.30L330.25 184.10L327.45 181.30Z" fill="#1b4674"/>
<path d="M349.30 90.20L352.10 93.00L349.30 95.80L346.50 93.00Z" fill="#1b4674"/>
<path d="M349.30 100.80L352.10 103.60L349.30 106.40L346.50 103.60Z" fill="#175089"/>
<path d="M349.30 102.32L352.10 105.12L349.30 107.92L346.50 105.12Z" fill="#175089"/>
<path d="M349.30 103.85L352.10 106.65L349.30 109.45L346.50 106.65Z" fill="#175089"/>
<path d="M349.30 105.37L352.10 108.17L349.30 110.97L346.50 108.17Z" fill="#175089"/>
<path d="M349.30 106.89L352.10 109.69L349.30 112.49L346.50 109.69Z" fill="#175089"/>
<path d="M349.30 108.41L352.10 111.21L349.30 114.01L346.50 111.21Z" fill="#175089"/>
<path d="M349.30 109.94L352.10 112.74L349.30 115.54L346.50 112.74Z" fill="#175089"/>
<path d="M349.30 111.46L352.10 114.26L349.30 117.06L346.50 114.26Z" fill="#175089"/>
<path d="M349.30 112.98L352.10 115.78L349.30 118.58L346.50 115.78Z" fill="#175089"/>
<path d="M349.30 114.50L352.10 117.30L349.30 120.10L346.50 117.30Z" fill="#175089"/>
<path d="M349.30 116.03L352.10 118.83L349.30 121.63L346.50 118.83Z" fill="#175089"/>
<path d="M349.30 117.55L352.10 120.35L349.30 123.15L346.50 120.35Z" fill="#175089"/>
<path d="M349.30 119.07L352.10 121.87L349.30 124.67L346.50 121.87Z" fill="#175089"/>
<path d="M349.30 120.60L352.10 123.40L349.30 126.20L346.50 123.40Z" fill="#175089"/>
<path d="M349.30 122.12L352.10 124.92L349.30 127.72L346.50 124.92Z" fill="#175089"/>
<path d="M349.30 123.64L352.10 126.44L349.30 129.24L346.50 126.44Z" fill="#175089"/>
<path d="M349.30 125.16L352.10 127.96L349.30 130.76L346.50 127.96Z" fill="#175089"/>
<path d="M349.30 126.69L352.10 129.49L349.30 132.29L346.50 129.49Z" fill="#175089"/>
<path d="M349.30 128.21L352.10 131.01L349.30 133.81L346.50 131.01Z" fill="#175089"/>
<path d="M349.30 129.73L352.10 132.53L349.30 135.33L346.50 132.53Z" fill="#175089"/>
<path d="M349.30 131.25L352.10 134.05L349.30 136.85L346.50 134.05Z" fill="#175089"/>
<path d="M349.30 132.78L352.10 135.58L349.30 138.38L346.50 135.58Z" fill="#175089"/>
<path d="M349.30 134.30L352.10 137.10L349.30 139.90L346.50 137.10Z" fill="#175089"/>
<path d="M368.35 90.20L371.15 93.00L368.35 95.80L365.55 93.00Z" fill="#1b4674"/>
<path d="M368.35 106.30L371.15 109.10L368.35 111.90L365.55 109.10Z" fill="#175089"/>
<path d="M368.35 107.81L371.15 110.61L368.35 113.41L365.55 110.61Z" fill="#175089"/>
<path d="M368.35 109.32L371.15 112.12L368.35 114.92L365.55 112.12Z" fill="#175089"/>
<path d="M368.35 110.83L371.15 113.63L368.35 116.43L365.55 113.63Z" fill="#175089"/>
<path d="M368.35 112.34L371.15 115.14L368.35 117.94L365.55 115.14Z" fill="#175089"/>
<path d="M368.35 113.85L371.15 116.65L368.35 119.45L365.55 116.65Z" fill="#175089"/>
<path d="M368.35 115.35L371.15 118.15L368.35 120.95L365.55 118.15Z" fill="#175089"/>
<path d="M368.35 116.86L371.15 119.66L368.35 122.46L365.55 119.66Z" fill="#175089"/>
<path d="M368.35 118.37L371.15 121.17L368.35 123.97L365.55 121.17Z" fill="#175089"/>
<path d="M368.35 119.88L371.15 122.68L368.35 125.48L365.55 122.68Z" fill="#175089"/>
<path d="M368.35 121.39L371.15 124.19L368.35 126.99L365.55 124.19Z" fill="#175089"/>
<path d="M368.35 122.90L371.15 125.70L368.35 128.50L365.55 125.70Z" fill="#175089"/>
<path d="M368.35 131.50L371.15 134.30L368.35 137.10L365.55 134.30Z" fill="#1b4674"/>
<path d="M368.35 198.60L371.15 201.40L368.35 204.20L365.55 201.40Z" fill="#1b4674"/>
<path d="M387.40 83.20L390.20 86.00L387.40 88.80L384.60 86.00Z" fill="#1b4674"/>
<path d="M387.40 88.30L390.20 91.10L387.40 93.90L384.60 91.10Z" fill="#1b4674"/>
<path d="M387.40 93.60L390.20 96.40L387.40 99.20L384.60 96.40Z" fill="#175089"/>
<path d="M387.40 95.23L390.20 98.03L387.40 100.83L384.60 98.03Z" fill="#175089"/>
<path d="M387.40 96.87L390.20 99.67L387.40 102.47L384.60 99.67Z" fill="#175089"/>
<path d="M387.40 98.50L390.20 101.30L387.40 104.10L384.60 101.30Z" fill="#175089"/>
<path d="M387.40 103.50L390.20 106.30L387.40 109.10L384.60 106.30Z" fill="#175089"/>
<path d="M387.40 105.17L390.20 107.97L387.40 110.77L384.60 107.97Z" fill="#175089"/>
<path d="M387.40 106.83L390.20 109.63L387.40 112.43L384.60 109.63Z" fill="#175089"/>
<path d="M387.40 108.50L390.20 111.30L387.40 114.10L384.60 111.30Z" fill="#175089"/>
<path d="M387.40 111.30L390.20 114.10L387.40 116.90L384.60 114.10Z" fill="#175089"/>
<path d="M387.40 112.97L390.20 115.77L387.40 118.57L384.60 115.77Z" fill="#175089"/>
<path d="M387.40 114.63L390.20 117.43L387.40 120.23L384.60 117.43Z" fill="#175089"/>
<path d="M387.40 116.30L390.20 119.10L387.40 121.90L384.60 119.10Z" fill="#175089"/>
<path d="M387.40 119.20L390.20 122.00L387.40 124.80L384.60 122.00Z" fill="#1b4674"/>
<path d="M387.40 126.30L390.20 129.10L387.40 131.90L384.60 129.10Z" fill="#175089"/>
<path d="M387.40 128.05L390.20 130.85L387.40 133.65L384.60 130.85Z" fill="#175089"/>
<path d="M387.40 129.80L390.20 132.60L387.40 135.40L384.60 132.60Z" fill="#175089"/>
<path d="M387.40 135.50L390.20 138.30L387.40 141.10L384.60 138.30Z" fill="#1b4674"/>
<path d="M406.45 67.10L409.25 69.90L406.45 72.70L403.65 69.90Z" fill="#1b4674"/>
<path d="M406.45 84.40L409.25 87.20L406.45 90.00L403.65 87.20Z" fill="#1b4674"/>
<path d="M406.45 93.20L409.25 96.00L406.45 98.80L403.65 96.00Z" fill="#1b4674"/>
<path d="M406.45 100.20L409.25 103.00L406.45 105.80L403.65 103.00Z" fill="#1b4674"/>
<path d="M406.45 112.10L409.25 114.90L406.45 117.70L403.65 114.90Z" fill="#1b4674"/>
<path d="M406.45 118.00L409.25 120.80L406.45 123.60L403.65 120.80Z" fill="#1b4674"/>
<path d="M406.45 123.10L409.25 125.90L406.45 128.70L403.65 125.90Z" fill="#1b4674"/>
<path d="M406.45 126.20L409.25 129.00L406.45 131.80L403.65 129.00Z" fill="#1b4674"/>
<path d="M406.45 133.10L409.25 135.90L406.45 138.70L403.65 135.90Z" fill="#1b4674"/>
<path d="M425.50 93.80L428.30 96.60L425.50 99.40L422.70 96.60Z" fill="#1b4674"/>
<path d="M425.50 100.80L428.30 103.60L425.50 106.40L422.70 103.60Z" fill="#1b4674"/>
<path d="M425.50 106.80L428.30 109.60L425.50 112.40L422.70 109.60Z" fill="#1b4674"/>
<path d="M425.50 112.30L428.30 115.10L425.50 117.90L422.70 115.10Z" fill="#1b4674"/>
<path d="M425.50 122.50L428.30 125.30L425.50 128.10L422.70 125.30Z" fill="#175089"/>
<path d="M425.50 124.20L428.30 127.00L425.50 129.80L422.70 127.00Z" fill="#175089"/>
<path d="M425.50 133.10L428.30 135.90L425.50 138.70L422.70 135.90Z" fill="#1b4674"/>
<path d="M425.50 144.50L428.30 147.30L425.50 150.10L422.70 147.30Z" fill="#1b4674"/>
<path d="M444.55 97.60L447.35 100.40L444.55 103.20L441.75 100.40Z" fill="#1b4674"/>
<path d="M444.55 104.40L447.35 107.20L444.55 110.00L441.75 107.20Z" fill="#1b4674"/>
<path d="M444.55 110.70L447.35 113.50L444.55 116.30L441.75 113.50Z" fill="#1b4674"/>
<path d="M444.55 115.10L447.35 117.90L444.55 120.70L441.75 117.90Z" fill="#1b4674"/>
<path d="M444.55 118.70L447.35 121.50L444.55 124.30L441.75 121.50Z" fill="#1b4674"/>
<path d="M444.55 125.30L447.35 128.10L444.55 130.90L441.75 128.10Z" fill="#1b4674"/>
<path d="M444.55 136.50L447.35 139.30L444.55 142.10L441.75 139.30Z" fill="#1b4674"/>
<path d="M463.60 103.80L466.40 106.60L463.60 109.40L460.80 106.60Z" fill="#1b4674"/>
<path d="M463.60 108.20L466.40 111.00L463.60 113.80L460.80 111.00Z" fill="#1b4674"/>
<path d="M463.60 123.90L466.40 126.70L463.60 129.50L460.80 126.70Z" fill="#1b4674"/>
<path d="M463.60 130.80L466.40 133.60L463.60 136.40L460.80 133.60Z" fill="#1b4674"/>
<path d="M463.60 136.50L466.40 139.30L463.60 142.10L460.80 139.30Z" fill="#1b4674"/>
<path d="M482.65 109.70L485.45 112.50L482.65 115.30L479.85 112.50Z" fill="#1b4674"/>
<path d="M482.65 115.80L485.45 118.60L482.65 121.40L479.85 118.60Z" fill="#1b4674"/>
<path d="M482.65 122.80L485.45 125.60L482.65 128.40L479.85 125.60Z" fill="#1b4674"/>
<path d="M501.70 112.60L504.50 115.40L501.70 118.20L498.90 115.40Z" fill="#1b4674"/>
<path d="M501.70 117.60L504.50 120.40L501.70 123.20L498.90 120.40Z" fill="#1b4674"/>
<text x="0.3" y="9.8" font-size="10.5" font-weight="bold" fill="#000" stroke="#000" stroke-width="0.3" font-family="Liberation Sans, sans-serif">A</text>
<text x="229.1" y="227.6" font-size="8.7" font-weight="bold" fill="#1a1a1a" stroke="#1a1a1a" stroke-width="0.3" font-family="Liberation Sans, sans-serif" textLength="76.3" lengthAdjust="spacingAndGlyphs">Approximate exposure day</text>
<text transform="translate(7.6,135.1) rotate(-90)" font-size="8.2" font-weight="bold" fill="#1a1a1a" stroke="#1a1a1a" stroke-width="0.3" font-family="Liberation Sans, sans-serif" textLength="54.6" lengthAdjust="spacingAndGlyphs">IR (IU/dL)/(IU/kg)</text>
<path d="M451.00 18.50L453.90 21.40L451.00 24.30L448.10 21.40Z" fill="#b3133a"/>
<path d="M451.00 31.50L453.90 34.40L451.00 37.30L448.10 34.40Z" fill="#1a4673"/>
<text x="456.3" y="24.2" font-size="7.4" fill="#1a1a1a" stroke="#1a1a1a" stroke-width="0.08" font-family="Liberation Sans, sans-serif" textLength="48.5" lengthAdjust="spacingAndGlyphs">Pre-prophylaxis</text>
<text x="456.3" y="37.2" font-size="7.4" fill="#1a1a1a" stroke="#1a1a1a" stroke-width="0.08" font-family="Liberation Sans, sans-serif" textLength="36" lengthAdjust="spacingAndGlyphs">Prophylaxis</text>
<text x="0.5" y="248.9" font-size="10.5" font-weight="bold" fill="#000" stroke="#000" stroke-width="0.3" font-family="Liberation Sans, sans-serif">B</text>
<line x1="44.6" y1="254.6" x2="44.6" y2="376.6" stroke="#111" stroke-width="1.2"/>
<line x1="44.0" y1="376.0" x2="508.5" y2="376.0" stroke="#111" stroke-width="1.2"/>
<line x1="41.4" y1="376.00" x2="44.6" y2="376.00" stroke="#111" stroke-width="1"/>
<text x="38.4" y="378.70" font-size="7.6" text-anchor="end" fill="#1a1a1a" stroke="#1a1a1a" stroke-width="0.3" font-family="Liberation Sans, sans-serif">0.0</text>
<line x1="41.4" y1="352.58" x2="44.6" y2="352.58" stroke="#111" stroke-width="1"/>
<text x="38.4" y="355.28" font-size="7.6" text-anchor="end" fill="#1a1a1a" stroke="#1a1a1a" stroke-width="0.3" font-family="Liberation Sans, sans-serif">0.5</text>
<line x1="41.4" y1="329.16" x2="44.6" y2="329.16" stroke="#111" stroke-width="1"/>
<text x="38.4" y="331.86" font-size="7.6" text-anchor="end" fill="#1a1a1a" stroke="#1a1a1a" stroke-width="0.3" font-family="Liberation Sans, sans-serif">1.0</text>
<line x1="41.4" y1="305.74" x2="44.6" y2="305.74" stroke="#111" stroke-width="1"/>
<text x="38.4" y="308.44" font-size="7.6" text-anchor="end" fill="#1a1a1a" stroke="#1a1a1a" stroke-width="0.3" font-family="Liberation Sans, sans-serif">1.5</text>
<line x1="41.4" y1="282.32" x2="44.6" y2="282.32" stroke="#111" stroke-width="1"/>
<text x="38.4" y="285.02" font-size="7.6" text-anchor="end" fill="#1a1a1a" stroke="#1a1a1a" stroke-width="0.3" font-family="Liberation Sans, sans-serif">2.0</text>
<line x1="41.4" y1="258.90" x2="44.6" y2="258.90" stroke="#111" stroke-width="1"/>
<text x="38.4" y="261.60" font-size="7.6" text-anchor="end" fill="#1a1a1a" stroke="#1a1a1a" stroke-width="0.3" font-family="Liberation Sans, sans-serif">2.5</text>
<line x1="57.70" y1="376.0" x2="57.70" y2="379.4" stroke="#000" stroke-width="1.1"/>
<text x="57.70" y="387.7" font-size="7.5" text-anchor="middle" fill="#1a1a1a" stroke="#1a1a1a" stroke-width="0.3" font-family="Liberation Sans, sans-serif">0</text>
<line x1="146.38" y1="376.0" x2="146.38" y2="379.4" stroke="#000" stroke-width="1.1"/>
<text x="146.38" y="387.7" font-size="7.5" text-anchor="middle" fill="#1a1a1a" stroke="#1a1a1a" stroke-width="0.3" font-family="Liberation Sans, sans-serif">10</text>
<line x1="235.06" y1="376.0" x2="235.06" y2="379.4" stroke="#000" stroke-width="1.1"/>
<text x="235.06" y="387.7" font-size="7.5" text-anchor="middle" fill="#1a1a1a" stroke="#1a1a1a" stroke-width="0.3" font-family="Liberation Sans, sans-serif">20</text>
<line x1="323.74" y1="376.0" x2="323.74" y2="379.4" stroke="#000" stroke-width="1.1"/>
<text x="323.74" y="387.7" font-size="7.5" text-anchor="middle" fill="#1a1a1a" stroke="#1a1a1a" stroke-width="0.3" font-family="Liberation Sans, sans-serif">30</text>
<line x1="412.42" y1="376.0" x2="412.42" y2="379.4" stroke="#000" stroke-width="1.1"/>
<text x="412.42" y="387.7" font-size="7.5" text-anchor="middle" fill="#1a1a1a" stroke="#1a1a1a" stroke-width="0.3" font-family="Liberation Sans, sans-serif">40</text>
<line x1="501.10" y1="376.0" x2="501.10" y2="379.4" stroke="#000" stroke-width="1.1"/>
<text x="501.10" y="387.7" font-size="7.5" text-anchor="middle" fill="#1a1a1a" stroke="#1a1a1a" stroke-width="0.3" font-family="Liberation Sans, sans-serif">50</text>
<text x="238.4" y="400.9" font-size="8.7" font-weight="bold" fill="#1a1a1a" stroke="#1a1a1a" stroke-width="0.3" font-family="Liberation Sans, sans-serif" textLength="76.2" lengthAdjust="spacingAndGlyphs">Approximate exposure day</text>
<text transform="translate(20.4,351.8) rotate(-90)" font-size="8.5" font-weight="bold" fill="#1a1a1a" stroke="#1a1a1a" stroke-width="0.3" font-family="Liberation Sans, sans-serif" textLength="73" lengthAdjust="spacingAndGlyphs">Mean IR (IU/dL)/(IU/kg)</text>
<polyline points="66.57,296.00 102.04,370.80 146.38,368.40 190.72,357.30 235.06,338.40 323.74,333.90 412.42,327.30 501.10,308.10" fill="none" stroke="#b0153c" stroke-width="1.35"/>
<path d="M66.57 293.00V302.30M63.97 293.00H69.17M63.97 302.30H69.17" stroke="#2a2a2a" stroke-width="1" fill="none"/>
<circle cx="66.57" cy="296.00" r="2.7" fill="#c8113a"/>
<circle cx="102.04" cy="370.80" r="2.7" fill="#c8113a"/>
<path d="M146.38 365.90V371.20M143.78 365.90H148.98M143.78 371.20H148.98" stroke="#2a2a2a" stroke-width="1" fill="none"/>
<circle cx="146.38" cy="368.40" r="2.7" fill="#c8113a"/>
<path d="M190.72 350.40V364.20M188.12 350.40H193.32M188.12 364.20H193.32" stroke="#2a2a2a" stroke-width="1" fill="none"/>
<circle cx="190.72" cy="357.30" r="2.7" fill="#c8113a"/>
<path d="M235.06 329.40V347.00M232.46 329.40H237.66M232.46 347.00H237.66" stroke="#2a2a2a" stroke-width="1" fill="none"/>
<circle cx="235.06" cy="338.40" r="2.7" fill="#c8113a"/>
<path d="M323.74 325.80V343.10M321.14 325.80H326.34M321.14 343.10H326.34" stroke="#2a2a2a" stroke-width="1" fill="none"/>
<circle cx="323.74" cy="333.90" r="2.7" fill="#c8113a"/>
<path d="M412.42 314.80V336.40M409.82 314.80H415.02M409.82 336.40H415.02" stroke="#2a2a2a" stroke-width="1" fill="none"/>
<circle cx="412.42" cy="327.30" r="2.7" fill="#c8113a"/>
<path d="M501.10 297.70V318.90M498.50 297.70H503.70M498.50 318.90H503.70" stroke="#2a2a2a" stroke-width="1" fill="none"/>
<circle cx="501.10" cy="308.10" r="2.7" fill="#c8113a"/>
<polyline points="66.57,287.10 102.04,315.50 146.38,303.80 190.72,287.40 235.06,281.20 323.74,272.70 412.42,278.50 501.10,280.00" fill="none" stroke="#173f68" stroke-width="1.35"/>
<path d="M66.57 281.70V292.20M63.97 281.70H69.17M63.97 292.20H69.17" stroke="#2a2a2a" stroke-width="1" fill="none"/>
<circle cx="66.57" cy="287.10" r="2.7" fill="#1a4f7e"/>
<path d="M102.04 305.00V324.40M99.44 305.00H104.64M99.44 324.40H104.64" stroke="#2a2a2a" stroke-width="1" fill="none"/>
<circle cx="102.04" cy="315.50" r="2.7" fill="#1a4f7e"/>
<path d="M146.38 297.30V311.60M143.78 297.30H148.98M143.78 311.60H148.98" stroke="#2a2a2a" stroke-width="1" fill="none"/>
<circle cx="146.38" cy="303.80" r="2.7" fill="#1a4f7e"/>
<path d="M190.72 281.20V293.40M188.12 281.20H193.32M188.12 293.40H193.32" stroke="#2a2a2a" stroke-width="1" fill="none"/>
<circle cx="190.72" cy="287.40" r="2.7" fill="#1a4f7e"/>
<path d="M235.06 276.80V284.90M232.46 276.80H237.66M232.46 284.90H237.66" stroke="#2a2a2a" stroke-width="1" fill="none"/>
<circle cx="235.06" cy="281.20" r="2.7" fill="#1a4f7e"/>
<path d="M323.74 268.10V277.80M321.14 268.10H326.34M321.14 277.80H326.34" stroke="#2a2a2a" stroke-width="1" fill="none"/>
<circle cx="323.74" cy="272.70" r="2.7" fill="#1a4f7e"/>
<path d="M412.42 275.60V281.60M409.82 275.60H415.02M409.82 281.60H415.02" stroke="#2a2a2a" stroke-width="1" fill="none"/>
<circle cx="412.42" cy="278.50" r="2.7" fill="#1a4f7e"/>
<path d="M501.10 277.30V282.80M498.50 277.30H503.70M498.50 282.80H503.70" stroke="#2a2a2a" stroke-width="1" fill="none"/>
<circle cx="501.10" cy="280.00" r="2.7" fill="#1a4f7e"/>
<line x1="51.1" y1="259.8" x2="63.8" y2="259.8" stroke="#b0153c" stroke-width="1.35"/><circle cx="57.6" cy="259.8" r="2.6" fill="#c8113a"/>
<line x1="51.1" y1="272.2" x2="63.8" y2="272.2" stroke="#173f68" stroke-width="1.35"/><circle cx="57.6" cy="272.2" r="2.6" fill="#1a4f7e"/>
<text x="67.5" y="262.2" font-size="7.3" fill="#1a1a1a" stroke="#1a1a1a" stroke-width="0.08" font-family="Liberation Sans, sans-serif" textLength="103.9" lengthAdjust="spacingAndGlyphs">Temporarily decreased IR (<tspan font-style="italic">n</tspan>=17)</text>
<text x="67.5" y="274.6" font-size="7.3" fill="#1a1a1a" stroke="#1a1a1a" stroke-width="0.08" font-family="Liberation Sans, sans-serif" textLength="110.1" lengthAdjust="spacingAndGlyphs">Other non-inhibitor patients (<tspan font-style="italic">n</tspan>=42)</text>
<text x="35.2" y="420.1" font-size="7.6" fill="#2b6195" stroke="#2b6195" stroke-width="0.12" font-family="Liberation Sans, sans-serif" font-style="italic" textLength="9.6" lengthAdjust="spacingAndGlyphs">n=</text>
<text x="35.2" y="434.0" font-size="7.6" fill="#c23a55" stroke="#c23a55" stroke-width="0.12" font-family="Liberation Sans, sans-serif" font-style="italic" textLength="9.6" lengthAdjust="spacingAndGlyphs">n=</text>
<text x="57.70" y="420.1" font-size="8" text-anchor="middle" fill="#2b6195" stroke="#2b6195" stroke-width="0.1" font-family="Liberation Sans, sans-serif">20</text>
<text x="57.70" y="434.0" font-size="8" text-anchor="middle" fill="#c23a55" stroke="#c23a55" stroke-width="0.1" font-family="Liberation Sans, sans-serif">12</text>
<text x="102.04" y="420.1" font-size="8" text-anchor="middle" fill="#2b6195" stroke="#2b6195" stroke-width="0.1" font-family="Liberation Sans, sans-serif">18</text>
<text x="102.04" y="434.0" font-size="8" text-anchor="middle" fill="#c23a55" stroke="#c23a55" stroke-width="0.1" font-family="Liberation Sans, sans-serif">17</text>
<text x="146.38" y="420.1" font-size="8" text-anchor="middle" fill="#2b6195" stroke="#2b6195" stroke-width="0.1" font-family="Liberation Sans, sans-serif">20</text>
<text x="146.38" y="434.0" font-size="8" text-anchor="middle" fill="#c23a55" stroke="#c23a55" stroke-width="0.1" font-family="Liberation Sans, sans-serif">16</text>
<text x="190.72" y="420.1" font-size="8" text-anchor="middle" fill="#2b6195" stroke="#2b6195" stroke-width="0.1" font-family="Liberation Sans, sans-serif">22</text>
<text x="190.72" y="434.0" font-size="8" text-anchor="middle" fill="#c23a55" stroke="#c23a55" stroke-width="0.1" font-family="Liberation Sans, sans-serif">13</text>
<text x="235.06" y="420.1" font-size="8" text-anchor="middle" fill="#2b6195" stroke="#2b6195" stroke-width="0.1" font-family="Liberation Sans, sans-serif">25</text>
<text x="235.06" y="434.0" font-size="8" text-anchor="middle" fill="#c23a55" stroke="#c23a55" stroke-width="0.1" font-family="Liberation Sans, sans-serif">13</text>
<text x="323.74" y="420.1" font-size="8" text-anchor="middle" fill="#2b6195" stroke="#2b6195" stroke-width="0.1" font-family="Liberation Sans, sans-serif">24</text>
<text x="323.74" y="434.0" font-size="8" text-anchor="middle" fill="#c23a55" stroke="#c23a55" stroke-width="0.1" font-family="Liberation Sans, sans-serif">11</text>
<text x="412.42" y="420.1" font-size="8" text-anchor="middle" fill="#2b6195" stroke="#2b6195" stroke-width="0.1" font-family="Liberation Sans, sans-serif">25</text>
<text x="412.42" y="434.0" font-size="8" text-anchor="middle" fill="#c23a55" stroke="#c23a55" stroke-width="0.1" font-family="Liberation Sans, sans-serif">10</text>
<text x="501.10" y="420.1" font-size="8" text-anchor="middle" fill="#2b6195" stroke="#2b6195" stroke-width="0.1" font-family="Liberation Sans, sans-serif">23</text>
<text x="501.10" y="434.0" font-size="8" text-anchor="middle" fill="#c23a55" stroke="#c23a55" stroke-width="0.1" font-family="Liberation Sans, sans-serif">10</text>
</svg>
</body></html>
